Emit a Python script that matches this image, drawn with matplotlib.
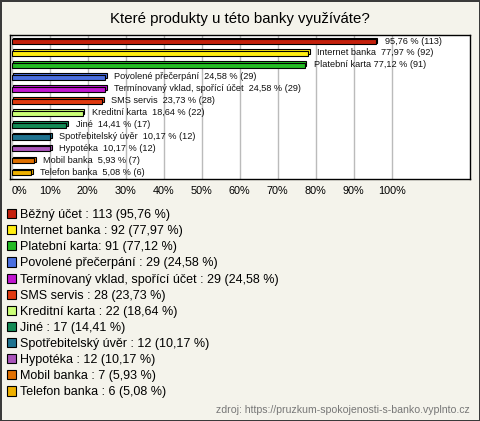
# coding: utf-8
import matplotlib
matplotlib.use('Agg')
import matplotlib.pyplot as plt
from matplotlib.patches import Rectangle

plt.rcParams['font.family'] = ['Liberation Sans', 'DejaVu Sans']

title = 'Které produkty u této banky využíváte?'
names = ['Běžný účet', 'Internet banka', 'Platební karta', 'Povolené přečerpání',
         'Termínovaný vklad, spořící účet', 'SMS servis', 'Kreditní karta', 'Jiné',
         'Spotřebitelský úvěr', 'Hypotéka', 'Mobil banka', 'Telefon banka']
counts = [113, 92, 91, 29, 29, 28, 22, 17, 12, 12, 7, 6]
pcts = [95.76, 77.97, 77.12, 24.58, 24.58, 23.73, 18.64, 14.41, 10.17, 10.17, 5.93, 5.08]
# texts next to the bars (first one has no name in the original)
bar_names = ['', 'Internet banka  ', 'Platební karta ', 'Povolené přečerpání  ',
             'Termínovaný vklad, spořící účet  ', 'SMS servis  ', 'Kreditní karta  ',
             'Jiné  ', 'Spotřebitelský úvěr  ', 'Hypotéka  ', 'Mobil banka  ', 'Telefon banka  ']
colors = ['#C4200C', '#FFEE11', '#22BB22', '#4A6FE0', '#C016D0', '#E03A10',
          '#CCFF77', '#138A55', '#1F7390', '#AA55BB', '#E07000', '#EEB000']
xticks = [0, 10, 20, 30, 40, 50, 60, 70, 80, 90, 100]
source = 'zdroj: https://pruzkum-spokojenosti-s-banko.vyplnto.cz'

def fmt(v):
    return ('%.2f' % v).replace('.', ',')

bg = '#F4F3EB'
fig = plt.figure(figsize=(4.8, 4.21), dpi=100, facecolor=bg)
fig.patch.set_edgecolor('#3a3a3a')
fig.patch.set_linewidth(2)

ax = fig.add_axes([10/480, 1-179.3/421, 460/480, (179.3-35)/421])
ax.set_facecolor('white')
ax.set_xlim(-0.45, 120.6)
ax.set_ylim(11.55, -0.56)

ypos = list(range(len(names)))
h = 0.42
# depth face, then the front face
ax.barh([y - 0.14 for y in ypos], pcts, left=0.45, height=h, color=colors,
        edgecolor='black', linewidth=0.8, zorder=2)
ax.barh(ypos, pcts, height=h, color=colors, edgecolor='black', linewidth=0.8, zorder=3)

for y, p, c, n in zip(ypos, pcts, counts, bar_names):
    ax.text(p + 2.4, y - 0.05, '%s%s %% (%d)' % (n, fmt(p), c), fontsize=6.6,
            va='center', ha='left', color='#111111', zorder=4)

ax.set_xticks(xticks)
ax.set_xticklabels(['%d%%' % t for t in xticks], fontsize=7.8)
ax.get_xticklabels()[0].set_horizontalalignment('left')
ax.set_yticks([])
ax.tick_params(axis='x', length=0, pad=5)
ax.grid(axis='x', color='#BBBBBB', linewidth=1, zorder=0)
ax.set_axisbelow(True)
for s in ax.spines.values():
    s.set_color('black')
    s.set_linewidth(1)

fig.text(0.5, 1-19/421, title, ha='center', va='center', fontsize=10.8)

handles = [Rectangle((0, 0), 1, 1, facecolor=c, edgecolor='black', linewidth=0.8) for c in colors]
labels = ['%s : %d (%s %%)' % (n, c, fmt(p)) for n, c, p in zip(names, counts, pcts)]
labels[2] = '%s: %d (%s %%)' % (names[2], counts[2], fmt(pcts[2]))
fig.legend(handles, labels, loc='upper left', bbox_to_anchor=(2/480, 1-204/421),
           frameon=False, fontsize=9, handlelength=0.75, handleheight=0.75,
           handletextpad=0.3, labelspacing=0.33, borderaxespad=0)

fig.text(470/480, 1-410/421, source, ha='right', va='center', fontsize=7.6, color='#777777')

fig.savefig('out.png', dpi=100, facecolor=bg, edgecolor=fig.patch.get_edgecolor())
